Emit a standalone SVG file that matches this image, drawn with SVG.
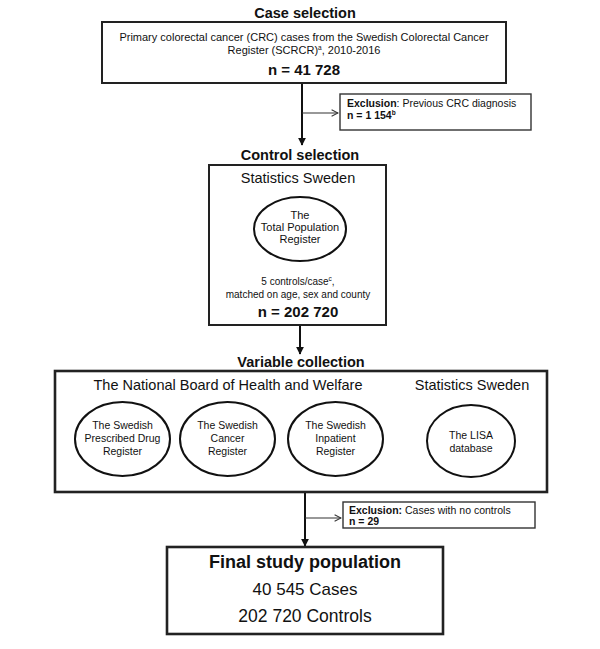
<svg xmlns="http://www.w3.org/2000/svg" width="600" height="649" viewBox="0 0 600 649">
<defs>
<style>
text{font-family:"Liberation Sans",Arial,sans-serif;fill:#111;text-anchor:middle}
.t{font-weight:bold;font-size:14.5px}
.box{fill:#fff;stroke:#222;stroke-width:2}
.thick{fill:#fff;stroke:#222;stroke-width:2.6}
.exc{fill:#fff;stroke:#333;stroke-width:1.4}
.ell{fill:#fff;stroke:#111;stroke-width:2}
.s11{font-size:11px}
.s10{font-size:10.5px}
.hd{font-size:14.5px}
.n{font-weight:bold;font-size:15px}
.l{text-anchor:start}
.b{font-weight:bold}
.sup{font-size:6.5px}
.line{stroke:#111;stroke-width:2;fill:none}
.side{stroke:#333;stroke-width:1.2;fill:none}
</style>
<marker id="ah" viewBox="0 0 10 10" refX="9" refY="5" markerWidth="8" markerHeight="8" markerUnits="userSpaceOnUse" orient="auto"><path d="M0,0 L10,5 L0,10 z" fill="#111"/></marker>
<marker id="oh" viewBox="0 0 10 10" refX="9" refY="5" markerWidth="8" markerHeight="8" markerUnits="userSpaceOnUse" orient="auto"><path d="M1,1 L9,5 L1,9" fill="none" stroke="#333" stroke-width="1.3"/></marker>
</defs>
<rect width="600" height="649" fill="#fff"/>

<g id="titles">
<text class="t" x="305" y="18">Case selection</text>
<text class="t" x="300" y="160">Control selection</text>
<text class="t" x="301" y="367">Variable collection</text>
</g>

<g id="connectors">
<line class="line" x1="302" y1="83" x2="302" y2="145" marker-end="url(#ah)"/>
<line class="side" x1="302" y1="113" x2="338" y2="113" marker-end="url(#oh)"/>
<line class="line" x1="300" y1="325" x2="300" y2="354" marker-end="url(#ah)"/>
<line class="line" x1="305" y1="492" x2="305" y2="546" marker-end="url(#ah)"/>
<line class="side" x1="305" y1="518" x2="341" y2="518" marker-end="url(#oh)"/>
</g>

<g id="case">
<rect class="box" x="102" y="22" width="404" height="61"/>
<text class="s11" x="304" y="41">Primary colorectal cancer (CRC) cases from the Swedish Colorectal Cancer</text>
<text class="s11" x="304" y="54">Register (SCRCR)<tspan class="sup" dy="-4">a</tspan><tspan dy="4">, 2010-2016</tspan></text>
<text class="n" x="304" y="75">n = 41 728</text>
</g>

<g id="exclusion1">
<rect class="exc" x="340" y="94" width="191" height="36"/>
<text class="s10 l" x="347" y="107"><tspan class="b">Exclusion</tspan>: Previous CRC diagnosis</text>
<text class="s10 l b" x="347" y="119">n = 1 154<tspan class="sup" dy="-4">b</tspan></text>
</g>

<g id="control">
<rect class="box" x="209" y="165" width="177" height="160"/>
<text class="hd" x="298" y="183">Statistics Sweden</text>
<ellipse class="ell" cx="300" cy="229" rx="46" ry="32"/>
<text class="s11" x="300" y="219">The</text>
<text class="s11" x="300" y="231">Total Population</text>
<text class="s11" x="300" y="243">Register</text>
<text style="font-size:10px" x="298" y="285">5 controls/case<tspan class="sup" dy="-4">c</tspan><tspan dy="4">,</tspan></text>
<text style="font-size:10px" x="298" y="298">matched on age, sex and county</text>
<text class="n" x="298" y="317">n = 202 720</text>
</g>

<g id="variables">
<rect class="thick" x="55" y="371" width="492" height="121"/>
<text class="hd" x="228" y="390">The National Board of Health and Welfare</text>
<text class="hd" x="472" y="390">Statistics Sweden</text>
</g>

<g id="prescribed">
<ellipse class="ell" cx="122.5" cy="439" rx="47.5" ry="37"/>
<text class="s10" x="122.5" y="429">The Swedish</text>
<text class="s10" x="122.5" y="442">Prescribed Drug</text>
<text class="s10" x="122.5" y="455">Register</text>
</g>
<g id="cancer">
<ellipse class="ell" cx="227.5" cy="439" rx="47.5" ry="37"/>
<text class="s10" x="227.5" y="429">The Swedish</text>
<text class="s10" x="227.5" y="442">Cancer</text>
<text class="s10" x="227.5" y="455">Register</text>
</g>
<g id="inpatient">
<ellipse class="ell" cx="335.5" cy="439" rx="47.5" ry="37"/>
<text class="s10" x="335.5" y="429">The Swedish</text>
<text class="s10" x="335.5" y="442">Inpatient</text>
<text class="s10" x="335.5" y="455">Register</text>
</g>
<g id="lisa">
<ellipse class="ell" cx="471" cy="441" rx="44" ry="36"/>
<text class="s10" x="471" y="439">The LISA</text>
<text class="s10" x="471" y="452">database</text>
</g>

<g id="exclusion2">
<rect class="exc" x="343" y="502" width="192" height="26"/>
<text class="s10 l" x="349" y="514"><tspan class="b">Exclusion:</tspan> Cases with no controls</text>
<text class="s10 l b" x="349" y="525">n = 29</text>
</g>

<g id="final">
<rect class="thick" x="167" y="547" width="276" height="87"/>
<text style="font-weight:bold;font-size:18px" x="305" y="568">Final study population</text>
<text style="font-size:17px" x="305" y="595">40 545 Cases</text>
<text style="font-size:17.5px" x="305" y="622">202 720 Controls</text>
</g>
</svg>
